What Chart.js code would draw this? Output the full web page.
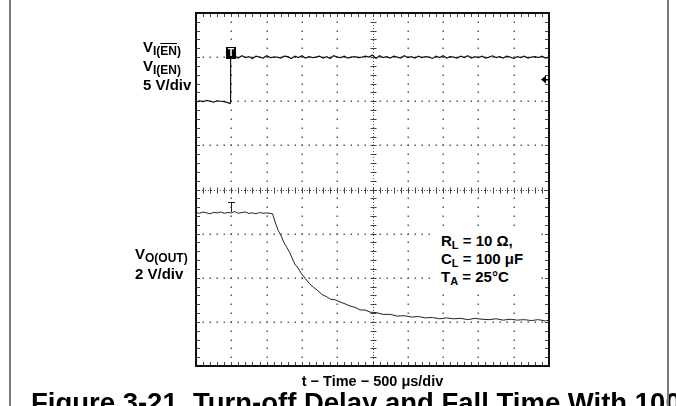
<!DOCTYPE html>
<html>
<head>
<meta charset="utf-8">
<script src="https://cdn.jsdelivr.net/npm/chart.js@4"></script>
<style>
body { margin: 0; background: #fff; }
#wrap { position: relative; width: 676px; height: 406px; overflow: hidden; font-family: "Liberation Sans", Arial, sans-serif; font-weight: bold; color: #000; }
.frame { position: absolute; top: 0; bottom: 0; width: 2px; background: #7a7a7a; }
canvas { position: absolute; left: 0; top: 0; }
.lbl { position: absolute; font-size: 15px; white-space: nowrap; }
.lbl sub, #notes sub { font-size: 12px; line-height: 0; vertical-align: -3px; }
.ov { text-decoration: overline; }
#notes { position: absolute; left: 432px; top: 229px; width: 104px; height: 61px; background: #fff; padding: 3px 0 0 9px; box-sizing: border-box; font-size: 15px; line-height: 18px; white-space: nowrap; }
#notes sub { font-size: 11px; }
#caption { position: absolute; left: 31px; top: 389px; font-size: 27.5px; line-height: 27px; white-space: nowrap; }
</style>
</head>
<body>
<div id="wrap">
  <canvas id="scope" width="676" height="406"></canvas>
  <div id="caption">Figure 3-21. Turn-off Delay and Fall Time With 100-μF Load</div>
  <div class="frame" style="left:9px"></div>
  <div class="frame" style="left:667px"></div>
  <div class="lbl" style="left:143px; top:37px; line-height:19px;">
    V<sub>I(<span class="ov">EN</span>)</sub><br>V<sub>I(EN)</sub><br>5 V/div
  </div>
  <div class="lbl" style="left:135px; top:244px; line-height:20px;">
    V<sub>O(OUT)</sub><br>2 V/div
  </div>
  <div id="notes">R<sub>L</sub> = 10 Ω,<br>C<sub>L</sub> = 100 μF<br>T<sub>A</sub> = 25°C</div>
</div>
<script>
// time in divisions (500 us/div), levels in divisions from bottom of screen
let enTime = [0, 0.1, 0.2, 0.3, 0.4, 0.5, 0.6, 0.7, 0.8, 0.9, 0.96, 0.98, 0.98,
    1.1, 1.2, 1.3, 1.4, 1.5, 1.6, 1.7, 1.8, 1.9, 2.0,
    2.1, 2.2, 2.3, 2.4, 2.5, 2.6, 2.7, 2.8, 2.9, 3.0,
    3.1, 3.2, 3.3, 3.4, 3.5, 3.6, 3.7, 3.8, 3.9, 4.0,
    4.1, 4.2, 4.3, 4.4, 4.5, 4.6, 4.7, 4.8, 4.9, 5.0,
    5.1, 5.2, 5.3, 5.4, 5.5, 5.6, 5.7, 5.8, 5.9, 6.0,
    6.1, 6.2, 6.3, 6.4, 6.5, 6.6, 6.7, 6.8, 6.9, 7.0,
    7.1, 7.2, 7.3, 7.4, 7.5, 7.6, 7.7, 7.8, 7.9, 8.0,
    8.1, 8.2, 8.3, 8.4, 8.5, 8.6, 8.7, 8.8, 8.9, 9.0,
    9.1, 9.2, 9.3, 9.4, 9.5, 9.6, 9.7, 9.8, 9.9, 10.0];
let enLevel = [5.98, 6.01, 5.99, 6.02, 6.00, 5.98, 6.01, 6.00, 5.99, 5.97, 5.95, 5.96, 7.00,
    7.02, 6.98, 7.03, 6.99, 7.01, 6.97, 7.02, 7.00, 6.98, 7.03,
    6.99, 7.00, 7.00, 6.98, 7.02, 7.01, 6.97, 7.02, 6.99, 7.03,
    6.98, 7.01, 6.99, 7.00, 7.02, 6.98, 7.01, 6.97, 7.03, 7.00,
    6.99, 7.02, 6.98, 7.00, 7.01, 6.99, 7.00, 7.02, 7.00, 7.05,
    6.97, 7.03, 6.99, 7.01, 6.98, 7.02, 7.00, 6.98, 7.03, 6.99,
    7.01, 6.98, 7.02, 6.99, 7.01, 7.00, 6.97, 7.02, 6.99, 7.03,
    6.98, 7.01, 7.00, 6.98, 7.02, 6.99, 7.03, 6.98, 7.01, 6.99,
    7.02, 6.98, 7.00, 7.03, 6.99, 7.01, 6.98, 7.02, 7.00, 6.97,
    7.01, 6.99, 7.02, 6.98, 7.00, 7.01, 6.99, 7.02, 6.98, 7.00];

let outTime = [0, 0.1, 0.2, 0.3, 0.4, 0.5, 0.6, 0.7, 0.8, 0.9, 1.0,
    1.1, 1.2, 1.3, 1.4, 1.5, 1.6, 1.7, 1.8, 1.9, 2.0, 2.1, 2.17,
    2.25, 2.33, 2.41, 2.49, 2.57, 2.65, 2.71, 2.8, 2.89, 2.99,
    3.1, 3.21, 3.32, 3.45, 3.57, 3.7, 3.82, 3.95,
    4.08, 4.22, 4.36, 4.5, 4.65, 4.79, 4.93,
    5.1, 5.3, 5.5, 5.7, 5.9, 6.1, 6.3, 6.5, 6.7, 6.9, 7.1, 7.3,
    7.5, 7.7, 7.9, 8.1, 8.3, 8.5, 8.7, 8.9, 9.1, 9.3, 9.5, 9.7, 9.9, 10.0];
let outLevel = [3.48, 3.46, 3.49, 3.47, 3.45, 3.48, 3.47, 3.49, 3.46, 3.48, 3.47,
    3.50, 3.46, 3.48, 3.49, 3.46, 3.47, 3.45, 3.48, 3.46, 3.47, 3.46, 3.45,
    3.24, 3.07, 2.95, 2.80, 2.69, 2.58, 2.47, 2.31, 2.22, 2.09,
    1.98, 1.87, 1.79, 1.71, 1.62, 1.57, 1.51, 1.50,
    1.45, 1.41, 1.36, 1.33, 1.27, 1.27, 1.22,
    1.21, 1.17, 1.17, 1.13, 1.14, 1.11, 1.12, 1.09, 1.10, 1.07, 1.09, 1.07,
    1.08, 1.05, 1.08, 1.06, 1.05, 1.07, 1.04, 1.06, 1.04, 1.05, 1.03, 1.05, 1.02, 1.04];

// screen markers: trigger time, trace-1 ground arrow level
let triggerTime = 1.0;
let enHigh = 7.0;
let outStart = 3.47;
let groundLevel = 6.5;

let xDivs = 10;
let yDivs = 8;
let minorPerDiv = 5;

function toPoints(xs, ys) {
    let pts = [];
    for (let i = 0; i < xs.length; i++) {
        pts.push({ x: xs[i], y: ys[i] });
    }
    return pts;
}

// scope graticule: dotted divisions, ticked centre lines and ticked frame
const graticule = {
    id: 'graticule',
    beforeDatasetsDraw(chart) {
        const { ctx, chartArea: a, scales: { x, y } } = chart;
        ctx.save();
        ctx.fillStyle = '#5a5a5a';

        for (let i = 1; i < xDivs; i++) {
            if (i === xDivs / 2) continue;
            let px = Math.round(x.getPixelForValue(i));
            for (let j = 1; j < yDivs * minorPerDiv; j++) {
                let py = Math.round(y.getPixelForValue(j / minorPerDiv));
                ctx.fillRect(px - 0.5, py - 0.5, 1.5, 1.5);
            }
        }
        for (let j = 1; j < yDivs; j++) {
            if (j === yDivs / 2) continue;
            let py = Math.round(y.getPixelForValue(j));
            for (let i = 1; i < xDivs * minorPerDiv; i++) {
                let px = Math.round(x.getPixelForValue(i / minorPerDiv));
                ctx.fillRect(px - 0.5, py - 0.5, 1.5, 1.5);
            }
        }

        // centre cross
        let cx = Math.round(x.getPixelForValue(xDivs / 2)) + 0.5;
        let cy = Math.round(y.getPixelForValue(yDivs / 2)) + 0.5;
        ctx.strokeStyle = '#555';
        ctx.lineWidth = 1;
        ctx.setLineDash([1, 2]);
        ctx.beginPath();
        ctx.moveTo(cx, a.top); ctx.lineTo(cx, a.bottom);
        ctx.moveTo(a.left, cy); ctx.lineTo(a.right, cy);
        ctx.stroke();
        ctx.setLineDash([]);

        ctx.strokeStyle = '#444';
        ctx.beginPath();
        for (let i = 1; i < xDivs * minorPerDiv; i++) {
            let px = Math.round(x.getPixelForValue(i / minorPerDiv)) + 0.5;
            ctx.moveTo(px, cy - 3); ctx.lineTo(px, cy + 3);
            ctx.moveTo(px, a.top); ctx.lineTo(px, a.top + 4);
            ctx.moveTo(px, a.bottom); ctx.lineTo(px, a.bottom - 4);
        }
        for (let j = 1; j < yDivs * minorPerDiv; j++) {
            let py = Math.round(y.getPixelForValue(j / minorPerDiv)) + 0.5;
            ctx.moveTo(cx - 3, py); ctx.lineTo(cx + 3, py);
            ctx.moveTo(a.left, py); ctx.lineTo(a.left + 4, py);
            ctx.moveTo(a.right, py); ctx.lineTo(a.right - 4, py);
        }
        ctx.stroke();

        ctx.strokeStyle = '#111';
        ctx.lineWidth = 2;
        ctx.strokeRect(a.left, a.top, a.right - a.left, a.bottom - a.top);
        ctx.restore();
    },
    afterDatasetsDraw(chart) {
        const { ctx, chartArea: a, scales: { x, y } } = chart;
        ctx.save();
        let tx = Math.round(x.getPixelForValue(triggerTime));

        // trigger box on channel 1
        let ty = Math.round(y.getPixelForValue(enHigh));
        ctx.fillStyle = '#000';
        ctx.fillRect(tx - 5, ty - 10, 10, 12);
        ctx.fillStyle = '#fff';
        ctx.font = 'bold 10px "Liberation Sans", Arial, sans-serif';
        ctx.textAlign = 'center';
        ctx.textBaseline = 'middle';
        ctx.fillText('T', tx, ty - 4);

        // trigger tee on channel 2
        let oy = Math.round(y.getPixelForValue(outStart));
        ctx.strokeStyle = '#222';
        ctx.lineWidth = 1;
        ctx.beginPath();
        ctx.moveTo(tx - 3, oy - 10.5); ctx.lineTo(tx + 4, oy - 10.5);
        ctx.moveTo(tx + 0.5, oy - 10); ctx.lineTo(tx + 0.5, oy - 1);
        ctx.stroke();

        // ground arrow at right edge
        let gy = Math.round(y.getPixelForValue(groundLevel)) + 0.5;
        ctx.fillStyle = '#000';
        ctx.beginPath();
        ctx.moveTo(a.right - 8, gy);
        ctx.lineTo(a.right - 3, gy - 4);
        ctx.lineTo(a.right - 3, gy + 4);
        ctx.closePath();
        ctx.fill();
        ctx.fillRect(a.right - 4, gy - 0.5, 4, 1.5);
        ctx.restore();
    }
};

const ctx = document.getElementById('scope').getContext('2d');
const chart = new Chart(ctx, {
    type: 'line',
    data: {
        datasets: [{
            label: 'VI(EN)',
            data: toPoints(enTime, enLevel),
            borderColor: '#111',
            borderWidth: 1.2,
            pointRadius: 0,
            tension: 0
        }, {
            label: 'VO(OUT)',
            data: toPoints(outTime, outLevel),
            borderColor: '#222',
            borderWidth: 1,
            pointRadius: 0,
            tension: 0
        }]
    },
    options: {
        responsive: false,
        animation: false,
        devicePixelRatio: 1,
        layout: {
            padding: { left: 196, top: 13, right: 127, bottom: 15.3 }
        },
        plugins: {
            legend: { display: false },
            tooltip: { enabled: false }
        },
        scales: {
            x: {
                type: 'linear',
                min: 0,
                max: xDivs,
                ticks: { display: false },
                grid: { display: false, drawTicks: false },
                border: { display: false },
                title: {
                    display: true,
                    text: 't − Time − 500 μs/div',
                    color: '#000',
                    font: { family: '"Liberation Sans", Arial, sans-serif', size: 14.5, weight: 'bold' },
                    padding: { top: 7.3, bottom: 0 }
                }
            },
            y: {
                type: 'linear',
                min: 0,
                max: yDivs,
                ticks: { display: false },
                grid: { display: false, drawTicks: false },
                border: { display: false }
            }
        }
    },
    plugins: [graticule]
});
</script>
</body>
</html>
